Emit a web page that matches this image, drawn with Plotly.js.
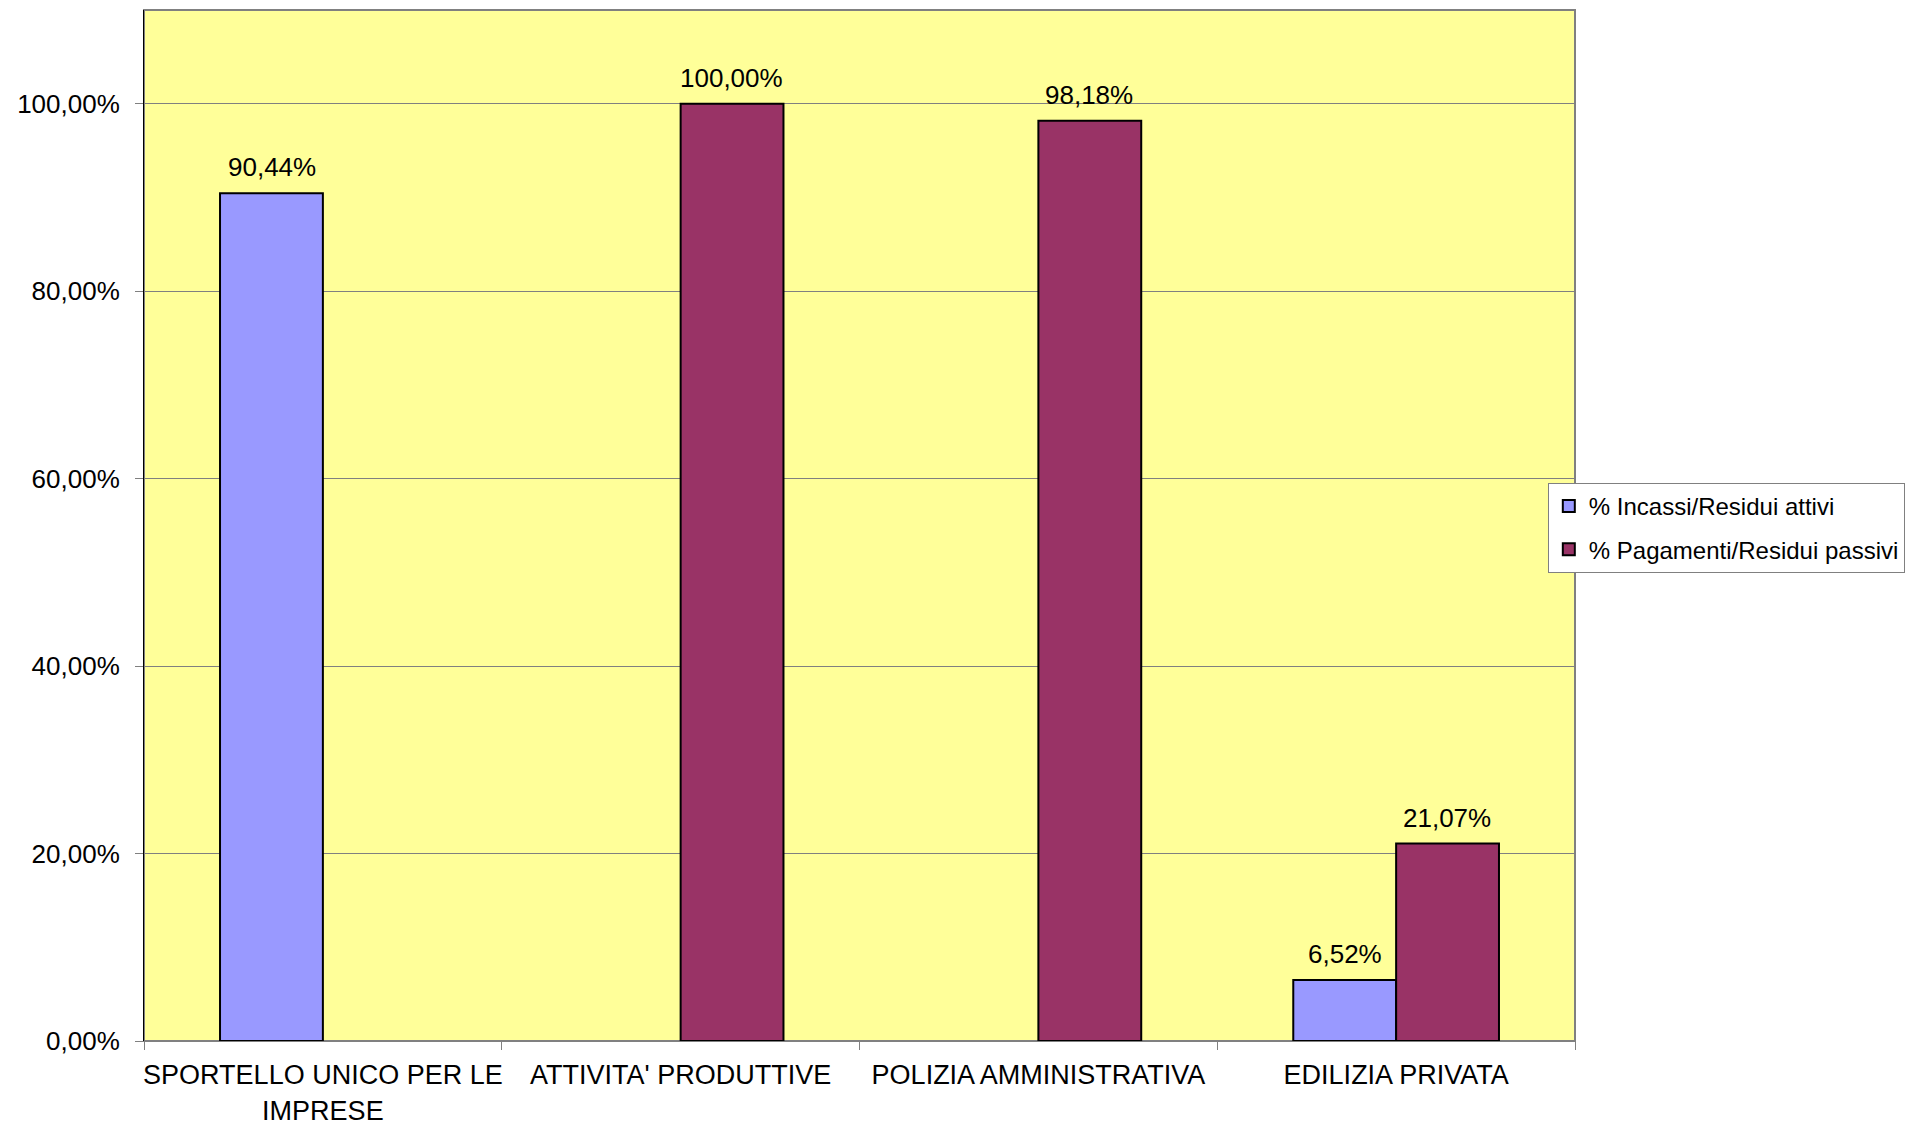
<!DOCTYPE html>
<html>
<head>
<meta charset="utf-8">
<script src="https://cdn.plot.ly/plotly-3.0.1.min.js"></script>
<style>html,body{margin:0;padding:0;background:#fff;}#chart{width:1910px;height:1126px;}</style>
</head>
<body>
<div id="chart"></div>
<script>
const categories = ["SPORTELLO UNICO PER LE<br>IMPRESE", "ATTIVITA' PRODUTTIVE", "POLIZIA AMMINISTRATIVA", "EDILIZIA PRIVATA"];
const seriesNames = ["% Incassi/Residui attivi", "% Pagamenti/Residui passivi"];
const incassi = [90.44, null, null, 6.52];
const pagamenti = [null, 100.00, 98.18, 21.07];
const yTicks = [0, 20, 40, 60, 80, 100];
const yTickText = yTicks.map(v => v.toFixed(2).replace('.', ',') + '%');

const font = "Arial, 'Liberation Sans', sans-serif";
const colors = ['#9999FF', '#993366'];
const series = [incassi, pagamenti];

const data = series.map((y, i) => ({
  type: 'bar', name: seriesNames[i], x: categories, y: y,
  legendgroup: 'g' + i,
  marker: {color: colors[i], line: {color: '#000000', width: 2}}
}));

// data labels above each bar (offset left/right within the group)
const annotations = [];
const barHalf = 51;
series.forEach((arr, i) => {
  arr.forEach((v, j) => {
    if (v === null) return;
    annotations.push({
      x: categories[j], y: v, xref: 'x', yref: 'y',
      text: v.toFixed(2).replace('.', ',') + '%',
      showarrow: false, yanchor: 'bottom', xanchor: 'center',
      xshift: i === 0 ? -barHalf : barHalf, yshift: 9,
      font: {family: font, size: 26, color: '#000'}
    });
  });
});

const layout = {
  width: 1910, height: 1126,
  margin: {l: 144, r: 335, t: 10, b: 85, pad: 0, autoexpand: false},
  paper_bgcolor: '#ffffff', plot_bgcolor: '#FFFF99',
  separators: ',.',
  font: {family: font, size: 25, color: '#000'},
  barmode: 'group', bargap: 0.425, bargroupgap: 0,
  showlegend: true,
  legend: {x: 0.981, xanchor: 'left', y: 0.5413, yanchor: 'top',
    bgcolor: '#ffffff', bordercolor: '#808080', borderwidth: 1,
    traceorder: 'grouped', tracegroupgap: 9,
    font: {family: font, size: 24, color: '#000'}, itemwidth: 30},
  xaxis: {type: 'category', showline: true, linecolor: '#808080', linewidth: 1,
    ticks: 'outside', ticklen: 8, tickcolor: '#808080', tickson: 'boundaries',
    ticklabelstandoff: 10, tickangle: 0,
    showgrid: false, tickfont: {family: font, size: 27, color: '#000'}, automargin: false},
  yaxis: {range: [0, 110], tickmode: 'array', tickvals: yTicks, ticktext: yTickText,
    showline: true, linecolor: '#000000', linewidth: 1,
    ticks: 'outside', ticklen: 8, tickcolor: '#808080', ticklabelstandoff: 10,
    showgrid: true, gridcolor: '#808080', gridwidth: 1, zeroline: false,
    tickfont: {family: font, size: 26, color: '#000'}, automargin: false},
  annotations: annotations,
  shapes: [{type: 'rect', xref: 'paper', yref: 'paper', x0: 0, x1: 1, y0: 0, y1: 1,
    line: {color: '#808080', width: 2}, layer: 'below'}]
};
Plotly.newPlot('chart', data, layout, {displayModeBar: false, staticPlot: true});
</script>
</body>
</html>
